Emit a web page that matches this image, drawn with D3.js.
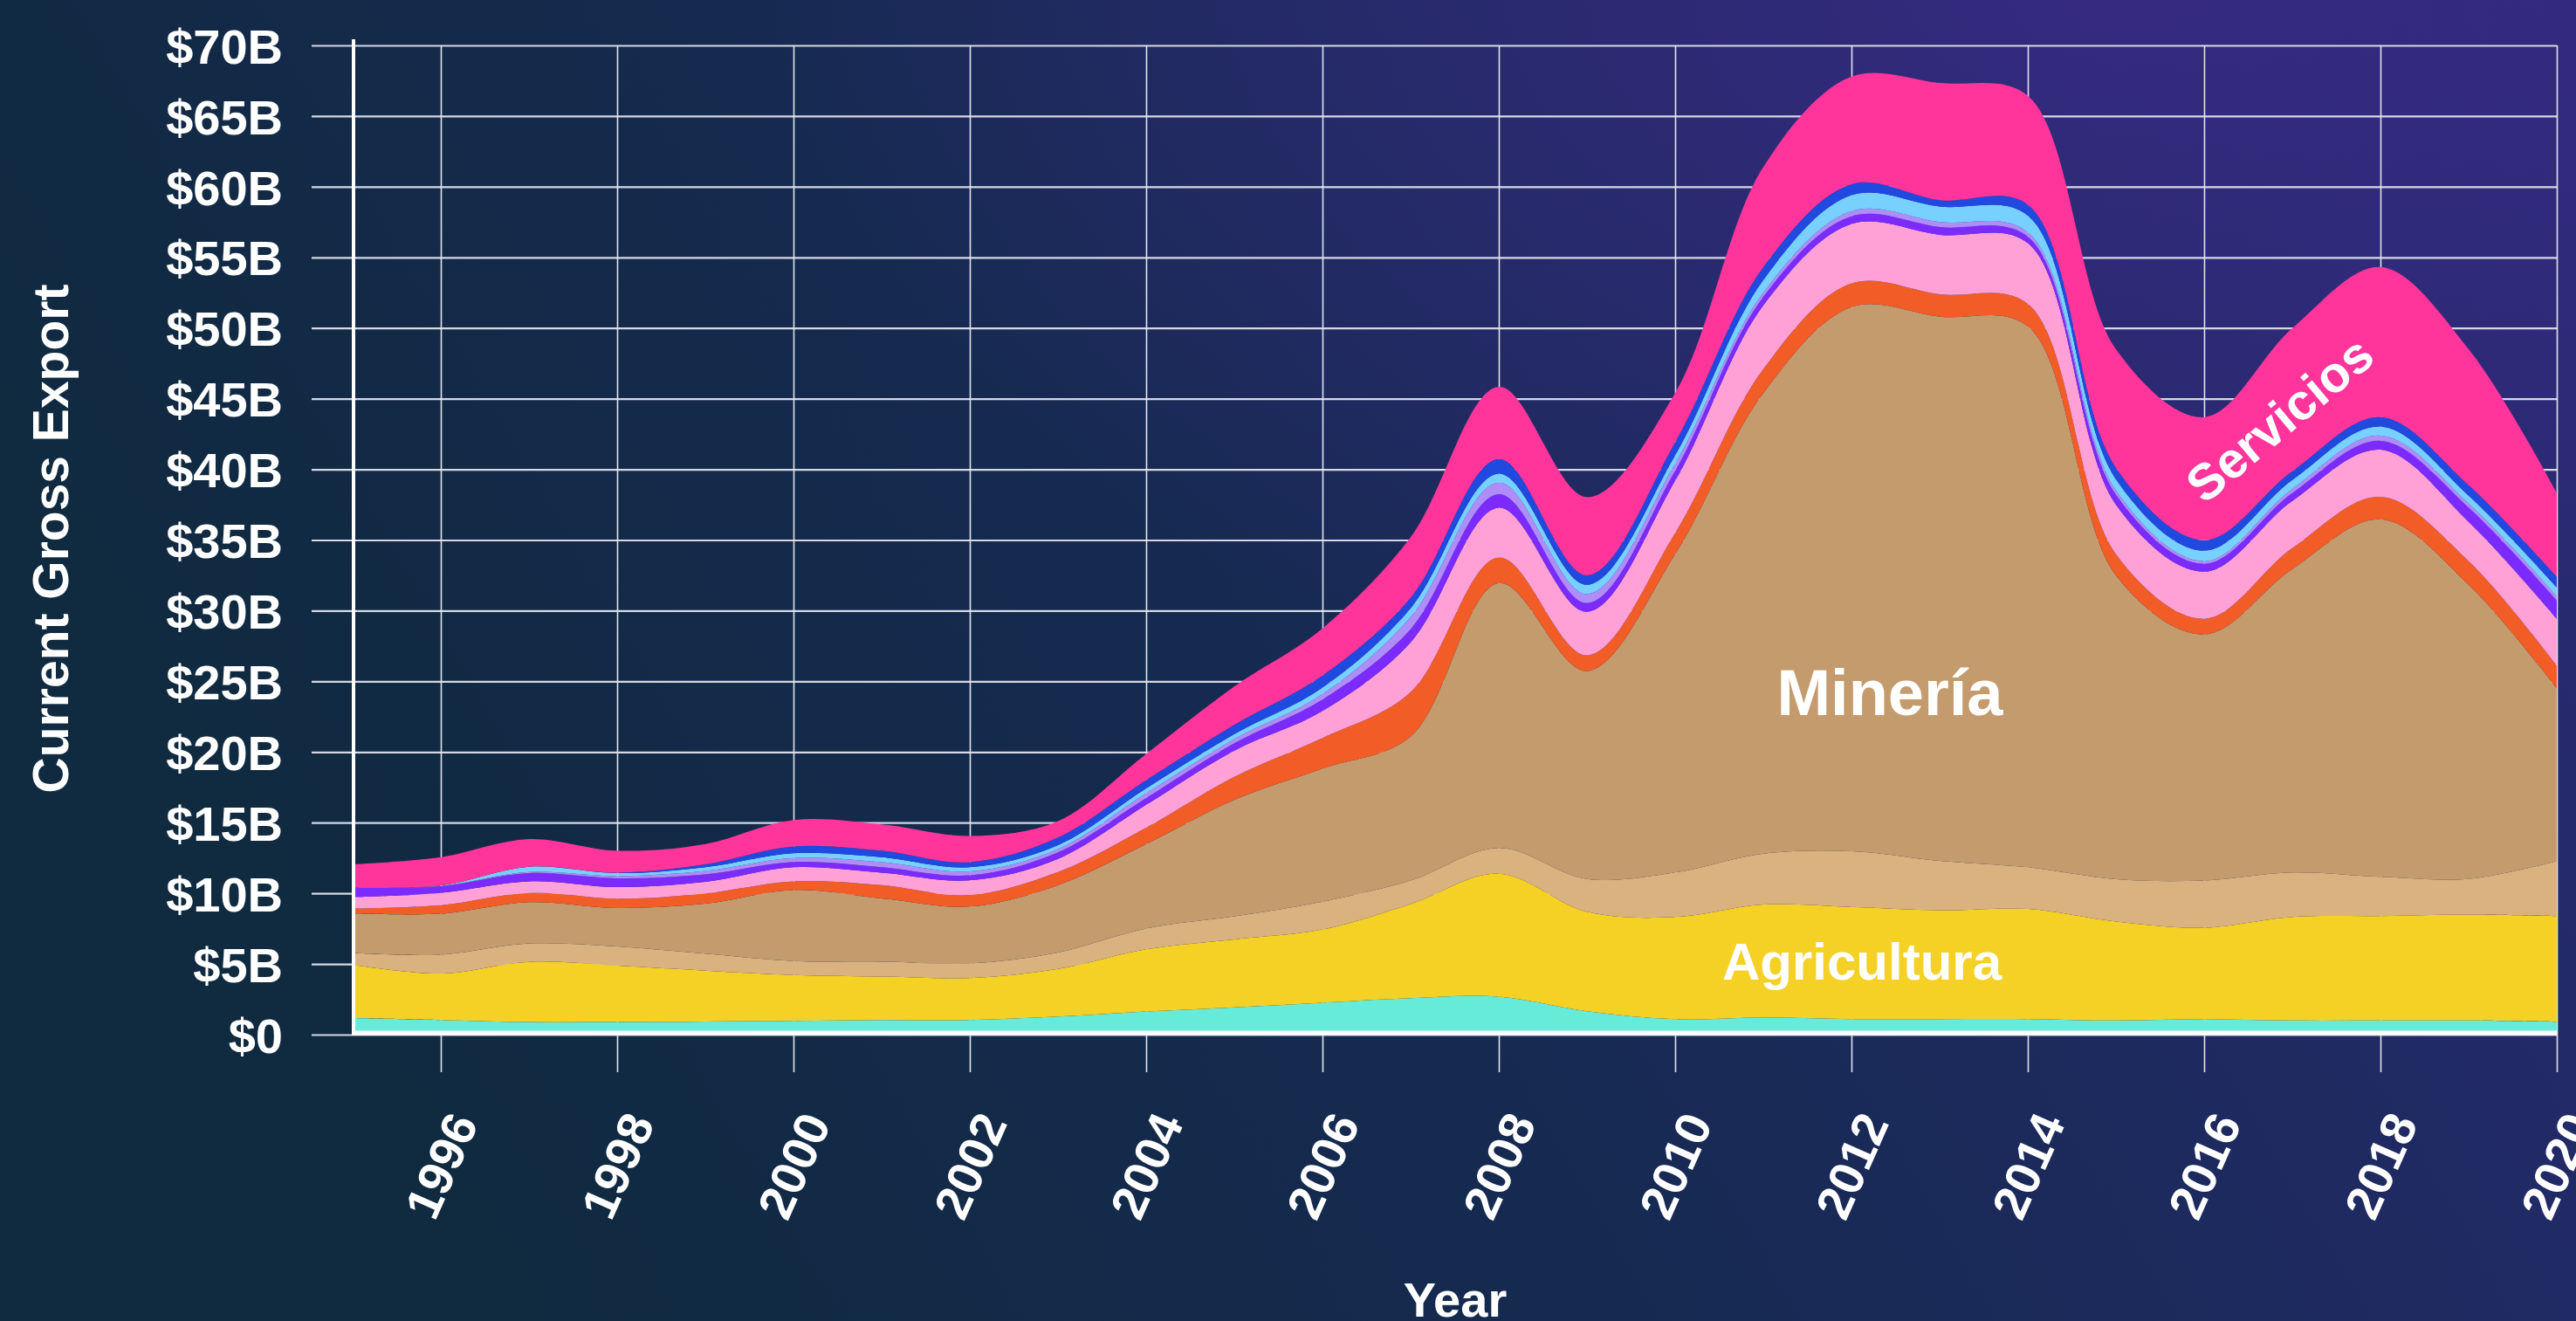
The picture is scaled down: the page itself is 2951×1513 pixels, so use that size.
<!DOCTYPE html>
<html>
<head>
<meta charset="utf-8">
<script src="https://cdn.jsdelivr.net/npm/d3@7"></script>
<style>
  html, body { margin: 0; padding: 0; overflow: hidden; background: #182a55; }
  svg { display: block; }
  text { font-family: "Liberation Sans", Arial, Helvetica, sans-serif; font-weight: bold; fill: #ffffff; }
</style>
</head>
<body>
<svg id="chart" width="2951" height="1513"></svg>
<script>
// ---------------- DATA (billions of USD) ----------------
const years = [1995,1996,1997,1998,1999,2000,2001,2002,2003,2004,2005,2006,2007,2008,2009,2010,2011,2012,2013,2014,2015,2016,2017,2018,2019,2020];

// stacked from bottom to top
const turquesa    = [1.17,1.03,0.89,0.89,0.93,0.97,1.04,1.04,1.28,1.63,1.93,2.26,2.58,2.69,1.65,1.09,1.20,1.10,1.10,1.10,1.00,1.09,1.00,1.00,1.00,0.91];
const agricultura = [3.77,3.29,4.26,3.99,3.60,3.25,3.07,2.96,3.37,4.41,4.81,5.18,6.66,8.70,7.04,7.23,8.00,7.93,7.70,7.79,7.00,6.48,7.32,7.39,7.50,7.48];
const tanClaro    = [0.83,1.34,1.30,1.36,1.20,0.99,1.05,1.04,1.16,1.47,1.63,1.97,1.67,1.82,2.33,3.15,3.60,3.94,3.49,2.95,3.00,3.34,3.15,2.78,2.52,3.89];
const mineria     = [2.82,2.89,2.92,2.72,3.54,5.02,4.48,4.02,4.77,5.97,8.25,9.42,10.19,18.74,14.71,22.53,32.60,38.51,38.51,38.28,21.50,17.41,21.48,25.30,20.82,12.22];
const naranja     = [0.33,0.61,0.66,0.66,0.72,0.62,0.94,0.82,0.92,1.16,1.62,2.16,3.14,1.81,1.11,1.50,1.70,1.68,1.59,1.59,1.50,1.11,1.48,1.59,1.66,1.60];
const rosaClaro   = [0.82,0.87,0.82,0.82,0.82,0.99,0.88,1.04,0.94,1.63,1.86,1.91,3.52,3.53,3.07,3.70,4.50,4.21,4.21,4.30,3.50,3.33,3.34,3.33,2.78,3.33];
const morado      = [0.66,0.47,0.58,0.62,0.52,0.37,0.39,0.35,0.46,0.47,0.52,0.81,0.93,0.95,0.63,0.70,0.60,0.54,0.55,0.46,0.70,0.56,0.55,0.63,1.01,1.30];
const lavanda     = [0.00,0.02,0.07,0.16,0.26,0.29,0.35,0.28,0.23,0.34,0.30,0.39,0.85,0.82,0.63,0.50,0.30,0.37,0.36,0.31,0.30,0.18,0.30,0.37,0.29,0.29];
const celeste     = [0.00,0.03,0.38,0.21,0.25,0.33,0.35,0.30,0.28,0.35,0.35,0.46,0.63,0.63,0.67,0.60,0.90,1.13,1.09,1.18,0.80,0.75,0.63,0.64,0.56,0.63];
const azul        = [0.00,0.00,0.00,0.03,0.21,0.49,0.47,0.35,0.53,0.58,0.65,0.85,0.74,1.04,0.66,0.90,0.90,0.77,0.45,0.77,0.80,0.74,0.62,0.66,0.73,0.74];
const servicios   = [1.65,2.01,1.96,1.55,1.44,1.86,1.86,1.86,1.17,1.86,2.72,3.34,4.29,5.11,5.53,3.50,7.10,7.61,8.29,7.70,8.40,8.70,10.12,10.63,9.63,5.93];

const seriesKeys   = ["turquesa","agricultura","tanClaro","mineria","naranja","rosaClaro","morado","lavanda","celeste","azul","servicios"];
const seriesValues = [turquesa, agricultura, tanClaro, mineria, naranja, rosaClaro, morado, lavanda, celeste, azul, servicios];
const seriesColors = ["#66ebd9","#f5d025","#d9b27f","#c49b6d","#f25c27","#ffa0d6","#7b2bff","#b08cf8","#78d0ff","#2049df","#ff359c"];

const yTicks = [0,5,10,15,20,25,30,35,40,45,50,55,60,65,70];
const xTicks = [1996,1998,2000,2002,2004,2006,2008,2010,2012,2014,2016,2018,2020];

// ---------------- LAYOUT ----------------
const W = 2951, H = 1513;
const plotLeft = 404, plotRight = 2929, plotTop = 52, plotBottom = 1185;

const svg = d3.select("#chart");
const defs = svg.append("defs");

// background
const lg = defs.append("linearGradient").attr("id","bg").attr("x1","0").attr("y1","0.3").attr("x2","1").attr("y2","0");
lg.append("stop").attr("offset","0").attr("stop-color","#102a40");
lg.append("stop").attr("offset","0.35").attr("stop-color","#152a4f");
lg.append("stop").attr("offset","0.7").attr("stop-color","#1f2a62");
lg.append("stop").attr("offset","1").attr("stop-color","#2c2a78");
svg.append("rect").attr("width",W).attr("height",H).attr("fill","url(#bg)");
const rg = defs.append("radialGradient").attr("id","glow").attr("cx","0.82").attr("cy","0.0").attr("r","0.55");
rg.append("stop").attr("offset","0").attr("stop-color","#3a2a86").attr("stop-opacity","0.75");
rg.append("stop").attr("offset","1").attr("stop-color","#3a2a86").attr("stop-opacity","0");
svg.append("rect").attr("width",W).attr("height",H).attr("fill","url(#glow)");

const x = d3.scaleLinear().domain([1995, 2020]).range([plotLeft, plotRight]);
const y = d3.scaleLinear().domain([0, 70]).range([plotBottom, plotTop]);

// grid: horizontal (extend left of axis as ticks)
const gy = svg.append("g").attr("transform", `translate(357,0)`)
  .call(d3.axisRight(y).tickValues(yTicks).tickSize(plotRight - 357).tickFormat(""));
gy.select(".domain").remove();
gy.selectAll(".tick line").attr("stroke","#d5d8e4").attr("stroke-width",2.2);

// grid: vertical (extend below axis as ticks)
const gx = svg.append("g").attr("transform", `translate(0,1228)`)
  .call(d3.axisBottom(x).tickValues(xTicks).tickSize(-(1228 - plotTop)).tickFormat(""));
gx.select(".domain").remove();
gx.selectAll(".tick line").attr("stroke","#e2e4ee").attr("stroke-width",1.6);

// stacked data
const table = years.map((yr, i) => {
  const row = { year: yr };
  seriesKeys.forEach((k, j) => row[k] = seriesValues[j][i]);
  return row;
});
const stacked = d3.stack().keys(seriesKeys)(table);

const area = d3.area()
  .x(d => x(d.data.year))
  .y0(d => y(d[0]))
  .y1(d => y(d[1]))
  .curve(d3.curveCatmullRom);

defs.append("clipPath").attr("id","plotclip").append("rect")
  .attr("x", plotLeft).attr("y", 0).attr("width", plotRight - plotLeft).attr("height", plotBottom);

svg.append("g").attr("clip-path","url(#plotclip)")
  .selectAll("path").data(stacked).join("path")
  .attr("d", area)
  .attr("fill", (d, i) => seriesColors[i]);

// axis lines
svg.append("line").attr("x1", 405).attr("x2", 405).attr("y1", 45).attr("y2", plotBottom)
  .attr("stroke", "#ffffff").attr("stroke-width", 4);
svg.append("line").attr("x1", 403).attr("x2", plotRight).attr("y1", 1183).attr("y2", 1183)
  .attr("stroke", "#ffffff").attr("stroke-width", 5);

// y tick labels
const yl = svg.append("g").attr("transform", `translate(357,0)`)
  .call(d3.axisLeft(y).tickValues(yTicks).tickSize(0).tickPadding(33)
        .tickFormat(d => d === 0 ? "$0" : `$${d}B`));
yl.select(".domain").remove();
yl.selectAll("text")
  .attr("font-size", 56).attr("fill", "#ffffff")
  .style("font-family", "'Liberation Sans', Arial, sans-serif").style("font-weight", "bold")
  .attr("dy", "0.36em");

// x tick labels (rotated)
svg.append("g").selectAll("text").data(xTicks).join("text")
  .attr("transform", d => `translate(${x(d)},1335) rotate(-66)`)
  .attr("text-anchor", "middle")
  .attr("dy", "0.36em")
  .attr("font-size", 56)
  .text(d => d);

// axis titles
svg.append("text")
  .attr("transform", "translate(78,617) rotate(-90)")
  .attr("text-anchor", "middle")
  .attr("font-size", 57)
  .text("Current Gross Export");

svg.append("text")
  .attr("x", 1667).attr("y", 1508)
  .attr("text-anchor", "middle")
  .attr("font-size", 56)
  .text("Year");

// in-chart labels
svg.append("text").attr("x", 2165).attr("y", 819).attr("text-anchor", "middle")
  .attr("font-size", 74).text("Minería");
svg.append("text").attr("x", 2133).attr("y", 1122).attr("text-anchor", "middle")
  .attr("font-size", 60).text("Agricultura");
svg.append("text")
  .attr("transform", "translate(2612,481) rotate(-40)")
  .attr("text-anchor", "middle").attr("dy", "0.33em")
  .attr("font-size", 58).text("Servicios");
</script>
</body>
</html>
